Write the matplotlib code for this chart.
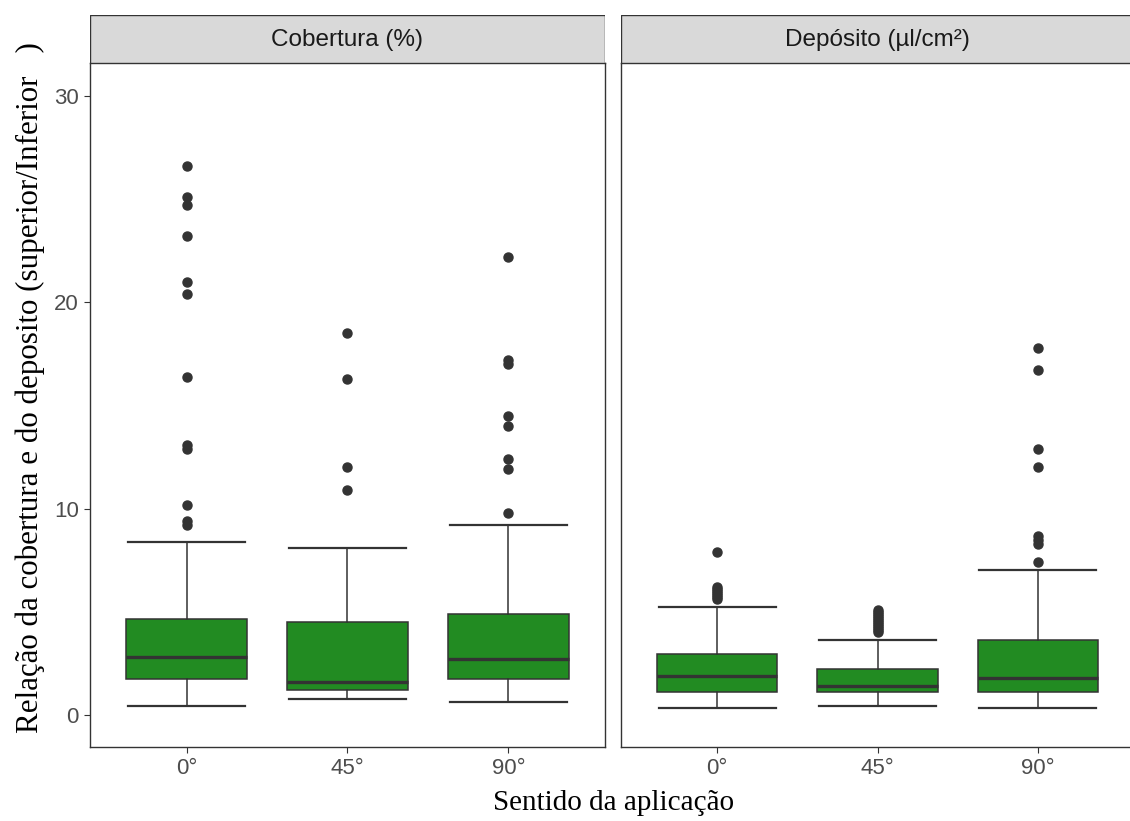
import matplotlib.pyplot as plt
from matplotlib.patches import Rectangle

# --- data ---
categories = ["0°", "45°", "90°"]
panels = ["Cobertura (%)", "Depósito (µl/cm²)"]

# whisker low, q1, median, q3, whisker high
cob_stats = [
    [0.45, 1.73, 2.80, 4.64, 8.40],
    [0.76, 1.21, 1.58, 4.52, 8.10],
    [0.65, 1.73, 2.70, 4.91, 9.20],
]
dep_stats = [
    [0.35, 1.13, 1.89, 2.94, 5.22],
    [0.45, 1.13, 1.42, 2.21, 3.64],
    [0.35, 1.13, 1.78, 3.64, 7.01],
]
cob_outliers = [
    [9.2, 9.4, 10.2, 12.9, 13.1, 16.4, 20.4, 21.0, 23.2, 24.7, 25.1, 26.6],
    [10.9, 12.0, 16.3, 18.5],
    [9.8, 11.9, 12.4, 14.0, 14.5, 17.0, 17.2, 22.2],
]
dep_outliers = [
    [5.6, 5.7, 5.8, 5.9, 6.0, 6.1, 6.2, 7.9],
    [4.0, 4.1, 4.2, 4.3, 4.4, 4.5, 4.6, 4.7, 4.8, 4.9, 5.0, 5.1],
    [7.4, 8.3, 8.5, 8.7, 12.0, 12.9, 16.7, 17.8],
]

GREEN = "#228B22"
DARK = "#333333"

fig = plt.figure(figsize=(11.3, 8.21), dpi=100)
W, H = 1130, 821


def px_axes(x0, y0, x1, y1):
    return fig.add_axes([x0 / W, 1 - y1 / H, (x1 - x0) / W, (y1 - y0) / H])


def draw_panel(ax, stats, outliers, title, strip_box):
    data = []
    for s, fl in zip(stats, outliers):
        data.append({"whislo": s[0], "q1": s[1], "med": s[2], "q3": s[3],
                     "whishi": s[4], "fliers": fl})
    ax.bxp(data, positions=[1, 2, 3], widths=0.75, capwidths=0.73,
           patch_artist=True, showfliers=True,
           boxprops=dict(facecolor=GREEN, edgecolor=DARK, linewidth=1.1),
           medianprops=dict(color=DARK, linewidth=2.4),
           whiskerprops=dict(color=DARK, linewidth=1.1),
           capprops=dict(color=DARK, linewidth=1.6),
           flierprops=dict(marker="o", markerfacecolor=DARK,
                           markeredgecolor=DARK, markersize=6.5))
    ax.set_xlim(0.4, 3.6)
    ax.set_ylim(-1.55, 31.6)
    ax.set_xticks([1, 2, 3])
    ax.set_xticklabels(categories)
    ax.set_yticks([0, 10, 20, 30])
    ax.tick_params(colors=DARK, labelcolor="#4D4D4D", labelsize=16,
                   length=4, width=0.8, pad=4)
    for sp in ax.spines.values():
        sp.set_color(DARK)
        sp.set_linewidth(1.0)

    sx = px_axes(*strip_box)
    sx.add_patch(Rectangle((0, 0), 1, 1, transform=sx.transAxes,
                           facecolor="#D9D9D9", edgecolor=DARK, linewidth=1.0))
    sx.set_xticks([])
    sx.set_yticks([])
    for sp in sx.spines.values():
        sp.set_visible(False)
    sx.text(0.5, 0.47, title, ha="center", va="center", fontsize=17.5,
            color="#1A1A1A", family="Liberation Sans", transform=sx.transAxes)


ax1 = px_axes(90, 63, 605, 747)
draw_panel(ax1, cob_stats, cob_outliers, panels[0], (90, 15, 605, 63))

ax2 = px_axes(621, 63, 1134, 747)
draw_panel(ax2, dep_stats, dep_outliers, panels[1], (621, 15, 1134, 63))
ax2.tick_params(axis="y", left=False, labelleft=False)

for ax in (ax1, ax2):
    for lbl in ax.get_xticklabels() + ax.get_yticklabels():
        lbl.set_family("Liberation Sans")

fig.text(30 / W, 1 - 388 / H, "Relação da cobertura e do deposito (superior/Inferior   )",
         rotation=90, ha="center", va="center", fontsize=22.3,
         family="Liberation Serif", color="black")
fig.text(614 / W, 1 - 803 / H, "Sentido da aplicação", ha="center", va="center",
         fontsize=21, family="Liberation Serif", color="black")

fig.savefig("out.png", dpi=100)
